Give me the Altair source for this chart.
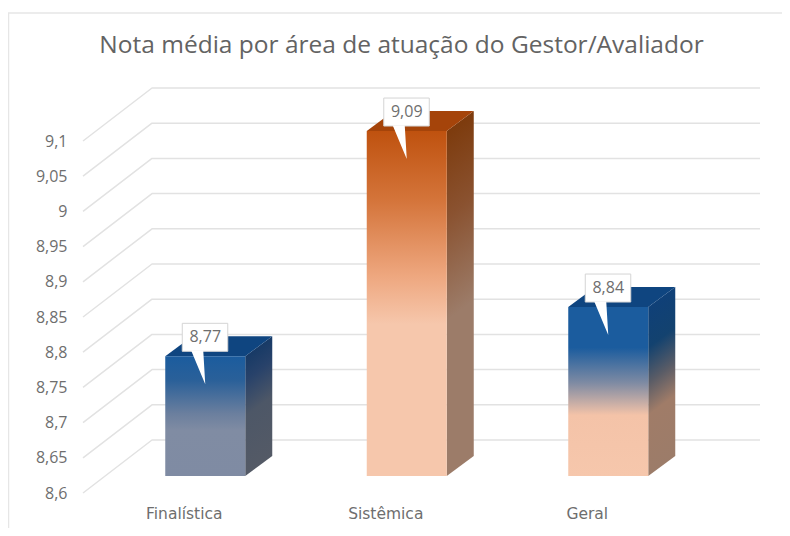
import altair as alt
import pandas as pd

TITLE = "Nota média por área de atuação do Gestor/Avaliador"
CATEGORIES = ["Finalística", "Sistêmica", "Geral"]
VALUES = [8.77, 9.09, 8.84]
LABELS = ["8,77", "9,09", "8,84"]
TICKS = [8.6, 8.65, 8.7, 8.75, 8.8, 8.85, 8.9, 8.95, 9.0, 9.05, 9.1]

# Pixels per data unit; used to express the fake 3D depth through the scales
PY = 704.0
PX = 201.5
W, H = 677, 405
BASE = 8.6
DEPTH_DX, DEPTH_DY = 69 / PX, 53 / PY       # full floor depth
BAR_SHIFT_X, BAR_SHIFT_Y = 21.5 / PX, 17 / PY   # floor to bars' front plane
BAR_DX, BAR_DY = 27 / PX, 20 / PY               # bars' own depth
BAR_HALF = 40 / PX

FRONT_STOPS = [
    [("#1b5c9e", 0.0), ("#2a6099", 0.2), ("#6b7f9e", 0.48), ("#808ca3", 0.62), ("#7f8ba3", 1.0)],
    [("#bf520f", 0.0), ("#d4743a", 0.2), ("#eea77f", 0.42), ("#f6c7ac", 0.56), ("#f6c7ac", 1.0)],
    [("#1b5c9e", 0.0), ("#1b5c9e", 0.24), ("#7f8ba3", 0.45), ("#f4c3a8", 0.64), ("#f6c7ac", 1.0)],
]
SIDE_STOPS = [
    [("#173a66", 0.0), ("#28426a", 0.2), ("#4d5767", 0.5), ("#545a66", 1.0)],
    [("#7d3b0d", 0.0), ("#8a5230", 0.25), ("#9c7c69", 0.55), ("#9c7c69", 1.0)],
    [("#0f4078", 0.0), ("#13426f", 0.24), ("#5a5c66", 0.45), ("#a07c68", 0.64), ("#9c7c69", 1.0)],
]
TOP_COLORS = ["#0f4580", "#a5440a", "#0f4580"]

x_scale = alt.Scale(domain=[0, W / PX], nice=False, zero=False)
y_scale = alt.Scale(domain=[BASE, BASE + H / PY], nice=False, zero=False)
x_axis = alt.Axis(
    title=None, values=[0.5, 1.5, 2.5], grid=False, domain=False, ticks=False,
    labelExpr="['Finalística','Sistêmica','Geral'][floor(datum.value)]",
    labelFont="DejaVu Sans", labelFontSize=15.5, labelColor="#6e6e6e",
    labelPadding=13, labelOverlap=False, labelBound=False, labelFlush=False,
)
y_axis = alt.Axis(
    title=None, values=TICKS, format="~g", grid=False, domain=False, ticks=False,
    labelExpr="replace(datum.label, '.', ',')",
    labelFont="Open Sans", labelFontSize=16, labelColor="#6e6e6e",
    labelPadding=16, labelOverlap=False, labelBound=False, labelFlush=False,
)
X = lambda f="x": alt.X(f"{f}:Q", scale=x_scale, axis=x_axis)
Y = lambda f="y": alt.Y(f"{f}:Q", scale=y_scale, axis=y_axis)


def gradient(stops, x1=0.0, y1=0.0, x2=0.0, y2=1.0):
    return alt.LinearGradient(
        gradient="linear",
        stops=[alt.GradientStop(color=c, offset=o) for c, o in stops],
        x1=x1, y1=y1, x2=x2, y2=y2,
    )


# ---------- grid ----------
grid_rows = []
for t in TICKS:
    grid_rows += [
        {"t": t, "x": 0.0, "y": t},
        {"t": t, "x": DEPTH_DX, "y": t + DEPTH_DY},
        {"t": t, "x": W / PX, "y": t + DEPTH_DY},
    ]
grid = alt.Chart(pd.DataFrame(grid_rows)).mark_line(
    color="#e2e2e2", strokeWidth=1.5, strokeJoin="round"
).encode(x=X(), y=Y(), detail="t:N")

layers = [grid]

# ---------- bars ----------
for i, v in enumerate(VALUES):
    cx = i + 0.5 + BAR_SHIFT_X
    xl, xr = cx - BAR_HALF, cx + BAR_HALF
    b0, b1 = BASE + BAR_SHIFT_Y, v + BAR_SHIFT_Y  # front-plane bottom / top

    # side face
    a = BAR_DY / (b1 - b0 + BAR_DY)
    k = (1 - a) / (a * a + 1)
    side = pd.DataFrame([
        {"x": xr, "y": b0, "y2": b1},
        {"x": xr + BAR_DX, "y": b0 + BAR_DY, "y2": b1 + BAR_DY},
    ])
    layers.append(alt.Chart(side).mark_area(
        fill=gradient(SIDE_STOPS[i], 0, a, a * k, a + k)
    ).encode(x=X(), y=Y(), y2="y2:Q"))

    # top face
    top = pd.DataFrame([
        {"y": b1, "x": xl, "x2": xr},
        {"y": b1 + BAR_DY, "x": xl + BAR_DX, "x2": xr + BAR_DX},
    ])
    layers.append(alt.Chart(top).mark_area(
        orient="horizontal", fill=TOP_COLORS[i]
    ).encode(y=Y(), x=X(), x2="x2:Q"))

    # front face
    front = pd.DataFrame([{"x": xl, "x2": xr, "y": b0, "y2": b1}])
    layers.append(alt.Chart(front).mark_rect(
        fill=gradient(FRONT_STOPS[i])
    ).encode(x=X(), x2="x2:Q", y=Y(), y2="y2:Q"))

    # callout
    tip_x, tip_y = cx, b1 - 28 / PY
    box = pd.DataFrame([{
        "x": tip_x - 23 / PX, "x2": tip_x + 22.5 / PX,
        "y": tip_y + 33 / PY, "y2": tip_y + 61 / PY,
    }])
    layers.append(alt.Chart(box).mark_rect(
        fill="#ffffff", stroke="#d4d4d4", strokeWidth=1
    ).encode(x=X(), x2="x2:Q", y=Y(), y2="y2:Q"))
    by = tip_y + 33.5 / PY
    tl, tr = tip_x - 14 / PX, tip_x - 2 / PX
    tail = pd.DataFrame([
        {"x": tl, "y": by, "y2": by},
        {"x": tr, "y": by, "y2": by - (33.5 / PY) * (tr - tl) / (tip_x - tl)},
        {"x": tip_x, "y": tip_y, "y2": tip_y},
    ])
    layers.append(alt.Chart(tail).mark_area(fill="#ffffff").encode(
        x=X(), y=Y(), y2="y2:Q"))
    lab = pd.DataFrame([{"x": tip_x, "y": tip_y + 47 / PY, "label": LABELS[i]}])
    layers.append(alt.Chart(lab).mark_text(
        font="Open Sans", fontSize=16, color="#6e6e6e", align="center", baseline="middle"
    ).encode(x=X(), y=Y(), text="label:N"))

# ---------- outer frame ----------
one = pd.DataFrame({"a": [0]})
frame_top = alt.Chart(one).mark_rule(color="#e6e6e6", strokeWidth=1.5).encode(
    x=alt.value(-75), x2=alt.value(699), y=alt.value(-75))
frame_left = alt.Chart(one).mark_rule(color="#e6e6e6", strokeWidth=1.5).encode(
    x=alt.value(-74.5), y=alt.value(-75), y2=alt.value(440))

# ---------- chart title ----------
title = alt.Chart(pd.DataFrame({"label": [TITLE]})).mark_text(
    font="Open Sans", fontSize=24.5, color="#636363", align="center", baseline="alphabetic"
).encode(x=alt.value(318.5), y=alt.value(-35), text="label:N")

chart = alt.layer(frame_top, frame_left, title, *layers).properties(
    width=W,
    height=H,
    padding={"left": 75, "top": 80, "right": 22, "bottom": 35},
    autosize=alt.AutoSizeParams(type="none"),
    background="#ffffff",
).configure_view(stroke=None)

chart.save("out.html", embed_options={"renderer": "svg", "actions": False})
